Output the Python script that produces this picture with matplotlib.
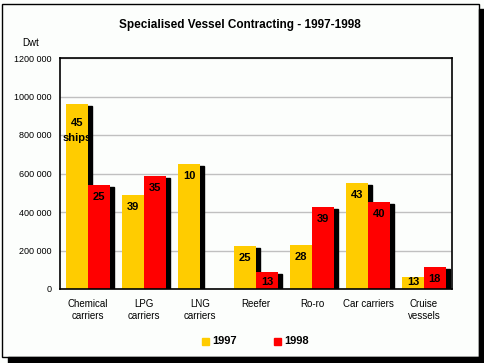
import numpy as np
import matplotlib.pyplot as plt
from matplotlib.patches import Rectangle

plt.rcParams['font.family'] = ['Liberation Sans', 'DejaVu Sans']

# Datos
categorias = ['Chemical\ncarriers', 'LPG\ncarriers', 'LNG\ncarriers', 'Reefer',
              'Ro-ro', 'Car carriers', 'Cruise\nvessels']
dwt_1997 = [960000, 490000, 650000, 223000, 229000, 551000, 62000]
dwt_1998 = [540000, 587000, 0, 88000, 426000, 452000, 114000]
barcos_1997 = ['45', '39', '10', '25', '28', '43', '13']
barcos_1998 = ['25', '35', '', '13', '39', '40', '18']
yticks = [0, 200000, 400000, 600000, 800000, 1000000, 1200000]
ytick_labels = ['0', '200 000', '400 000', '600 000', '800 000', '1000 000', '1200 000']

amarillo = '#FFCC00'
rojo = '#FF0000'
fondo = '#FCFEFC'

fig = plt.figure(figsize=(4.85, 3.63), dpi=100, facecolor=fondo)
ax = fig.add_axes([60/485, 1-289/363, 392/485, 231/363])
ax.set_facecolor(fondo)

x = np.arange(len(categorias))
w = 0.39
px = 1200000 / 231   # unidades de datos por pixel (vertical)
sx = 4 / 56          # desplazamiento horizontal de la sombra

for i in range(len(categorias)):
    for off, val, col in [(-w/2, dwt_1997[i], amarillo), (w/2, dwt_1998[i], rojo)]:
        if val <= 0:
            continue
        ax.add_patch(Rectangle((x[i] + off - w/2 + sx, 0), w, val - 2*px, color='black', zorder=2))
        ax.bar(x[i] + off, val, w, color=col, zorder=3)

def etiqueta(txt, xc, val):
    yc = max(val - 12*px, 7*px)
    ax.text(xc, yc, txt, ha='center', va='center', fontsize=8, fontweight='bold', zorder=5)

# Etiquetas de número de barcos
for i in range(len(categorias)):
    if i == 0:
        ax.text(x[i] - w/2, dwt_1997[i] - 19*px, '45', ha='center', va='center',
                fontsize=8, fontweight='bold', zorder=5)
        ax.text(x[i] - w/2, dwt_1997[i] - 34*px, 'ships', ha='center', va='center',
                fontsize=8, fontweight='bold', zorder=5)
    elif barcos_1997[i]:
        etiqueta(barcos_1997[i], x[i] - w/2, dwt_1997[i])
    if barcos_1998[i]:
        etiqueta(barcos_1998[i], x[i] + w/2, dwt_1998[i])

ax.set_xlim(-0.5, len(categorias) - 0.5)
ax.set_ylim(0, 1200000)
ax.set_yticks(yticks)
ax.set_yticklabels(ytick_labels, fontsize=6.5)
ax.set_xticks(x)
ax.set_xticklabels(categorias, fontsize=7, linespacing=1.25)
ax.tick_params(axis='x', length=0, pad=7)
ax.tick_params(axis='y', length=0, pad=6)
ax.grid(axis='y', color='#C0C0C0', linewidth=1, zorder=0)
ax.set_axisbelow(True)
for s in ax.spines.values():
    s.set_color('black')
    s.set_linewidth(1.2)
    s.set_zorder(6)

fig.text(240/485, 1-25/363, 'Specialised Vessel Contracting - 1997-1998', ha='center', va='center',
         fontsize=8.5, fontweight='bold')
fig.text(31/485, 1-43/363, 'Dwt', ha='center', va='center', fontsize=7)

# Leyenda
fig.patches.append(Rectangle((202/485, 1-345/363), 7/485, 7/363, transform=fig.transFigure,
                             color=amarillo, figure=fig))
fig.text(212/485, 1-341.5/363, '1997', ha='left', va='center', fontsize=8, fontweight='bold')
fig.patches.append(Rectangle((274/485, 1-345/363), 7/485, 7/363, transform=fig.transFigure,
                             color=rojo, figure=fig))
fig.text(284/485, 1-341.5/363, '1998', ha='left', va='center', fontsize=8, fontweight='bold')

# Marco con sombra
fig.patches.append(Rectangle((479/485, 0), 6/485, 1 - 9/363, transform=fig.transFigure,
                             color='black', figure=fig))
fig.patches.append(Rectangle((8/485, 0), 477/485, 6/363, transform=fig.transFigure,
                             color='black', figure=fig))
fig.patches.append(Rectangle((2.5/485, 6/363), 477/485, 353/363, transform=fig.transFigure,
                             fill=False, edgecolor='black', linewidth=1, figure=fig))

fig.savefig('out.png', dpi=100, facecolor=fondo)
